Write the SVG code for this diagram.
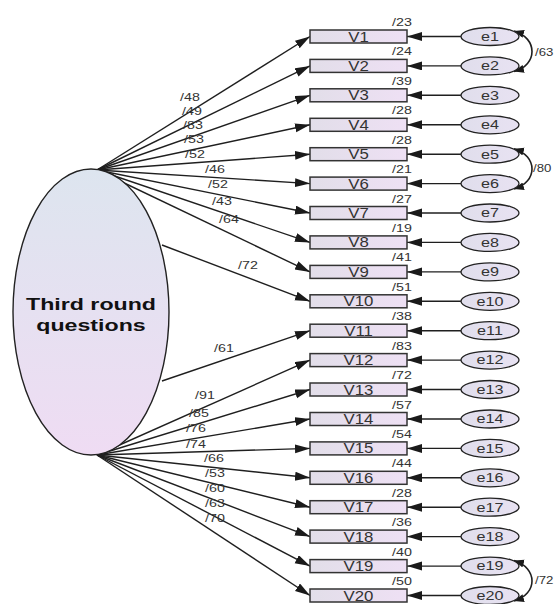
<svg xmlns="http://www.w3.org/2000/svg" width="555" height="604" viewBox="0 0 555 604">
<defs>
<linearGradient id="gBox" x1="0" y1="0" x2="1" y2="0"><stop offset="0" stop-color="#e2dee9"/><stop offset="1" stop-color="#eee0f4"/></linearGradient>
<linearGradient id="gLat" x1="0" y1="0" x2="0" y2="1"><stop offset="0" stop-color="#dde5ef"/><stop offset="1" stop-color="#efdcf3"/></linearGradient>
<linearGradient id="gErr" x1="0" y1="0" x2="1" y2="0"><stop offset="0" stop-color="#e0deec"/><stop offset="1" stop-color="#e8e2f2"/></linearGradient>
<marker id="ah" markerUnits="userSpaceOnUse" markerWidth="16" markerHeight="10" refX="15" refY="4.5" orient="auto"><path d="M0,0 L15,4.5 L0,9 z" fill="#1a1a1a"/></marker>
<marker id="ac" markerUnits="userSpaceOnUse" markerWidth="12" markerHeight="10" refX="10" refY="4" orient="auto-start-reverse"><path d="M0,0 L10,4 L0,8 z" fill="#1a1a1a"/></marker>
<style>
.ln{stroke:#1f1f1f;stroke-width:1.4;fill:none;marker-end:url(#ah)}
.cv{stroke:#1f1f1f;stroke-width:1.6;fill:none;marker-start:url(#ac);marker-end:url(#ac)}
.bx{fill:url(#gBox);stroke:#333;stroke-width:1.5}
.er{fill:url(#gErr);stroke:#222;stroke-width:1.3}
.lat{fill:url(#gLat);stroke:#222;stroke-width:1.4}
text{font-family:"Liberation Sans",Arial,sans-serif;fill:#2a2a2a}
.vt{font-size:14px;text-anchor:middle;fill:#333}
.et{font-size:12px;text-anchor:middle;fill:#333}
.nm{font-size:11px;fill:#333}
.tt{font-size:16px;font-weight:bold;text-anchor:middle;fill:#111}
</style>
</defs>
<rect width="555" height="604" fill="#ffffff"/>

<g id="connectors">
<line class="ln" x1="97" y1="170" x2="310" y2="36.5"/>
<line class="ln" x1="97" y1="170" x2="310" y2="65.9"/>
<line class="ln" x1="97" y1="170" x2="310" y2="95.3"/>
<line class="ln" x1="97" y1="170" x2="310" y2="124.8"/>
<line class="ln" x1="97" y1="170" x2="310" y2="154.2"/>
<line class="ln" x1="97" y1="170" x2="310" y2="183.6"/>
<line class="ln" x1="97" y1="170" x2="310" y2="213"/>
<line class="ln" x1="97" y1="170" x2="310" y2="242.4"/>
<line class="ln" x1="97" y1="170" x2="310" y2="271.9"/>
<line class="ln" x1="162" y1="245" x2="310" y2="301.3"/>
<line class="ln" x1="162" y1="381" x2="310" y2="330.7"/>
<line class="ln" x1="97" y1="455" x2="310" y2="360.1"/>
<line class="ln" x1="97" y1="455" x2="310" y2="389.5"/>
<line class="ln" x1="97" y1="455" x2="310" y2="419"/>
<line class="ln" x1="97" y1="455" x2="310" y2="448.4"/>
<line class="ln" x1="97" y1="455" x2="310" y2="477.8"/>
<line class="ln" x1="97" y1="455" x2="310" y2="507.2"/>
<line class="ln" x1="97" y1="455" x2="310" y2="536.6"/>
<line class="ln" x1="97" y1="455" x2="310" y2="566.1"/>
<line class="ln" x1="97" y1="455" x2="310" y2="595.5"/>

<line class="ln" x1="461" y1="36.5" x2="407" y2="36.5"/>
<line class="ln" x1="461" y1="65.9" x2="407" y2="65.9"/>
<line class="ln" x1="461" y1="95.3" x2="407" y2="95.3"/>
<line class="ln" x1="461" y1="124.8" x2="407" y2="124.8"/>
<line class="ln" x1="461" y1="154.2" x2="407" y2="154.2"/>
<line class="ln" x1="461" y1="183.6" x2="407" y2="183.6"/>
<line class="ln" x1="461" y1="213" x2="407" y2="213"/>
<line class="ln" x1="461" y1="242.4" x2="407" y2="242.4"/>
<line class="ln" x1="461" y1="271.9" x2="407" y2="271.9"/>
<line class="ln" x1="461" y1="301.3" x2="407" y2="301.3"/>
<line class="ln" x1="461" y1="330.7" x2="407" y2="330.7"/>
<line class="ln" x1="461" y1="360.1" x2="407" y2="360.1"/>
<line class="ln" x1="461" y1="389.5" x2="407" y2="389.5"/>
<line class="ln" x1="461" y1="419" x2="407" y2="419"/>
<line class="ln" x1="461" y1="448.4" x2="407" y2="448.4"/>
<line class="ln" x1="461" y1="477.8" x2="407" y2="477.8"/>
<line class="ln" x1="461" y1="507.2" x2="407" y2="507.2"/>
<line class="ln" x1="461" y1="536.6" x2="407" y2="536.6"/>
<line class="ln" x1="461" y1="566.1" x2="407" y2="566.1"/>
<line class="ln" x1="461" y1="595.5" x2="407" y2="595.5"/>

<path class="cv" d="M514,31 C538,38 538,65 514,71.5"/>
<path class="cv" d="M514,148.7 C538,156 538,182 514,189.1"/>
<path class="cv" d="M514,560.6 C538,568 538,594 514,601"/>

<text class="nm" transform="matrix(1.3 0 0 1 180 101)">/48</text>
<text class="nm" transform="matrix(1.3 0 0 1 182 115)">/49</text>
<text class="nm" transform="matrix(1.3 0 0 1 183 129)">/83</text>
<text class="nm" transform="matrix(1.3 0 0 1 184 143)">/53</text>
<text class="nm" transform="matrix(1.3 0 0 1 185 158)">/52</text>
<text class="nm" transform="matrix(1.3 0 0 1 205 173)">/46</text>
<text class="nm" transform="matrix(1.3 0 0 1 208 188)">/52</text>
<text class="nm" transform="matrix(1.3 0 0 1 212 205)">/43</text>
<text class="nm" transform="matrix(1.3 0 0 1 219 223)">/64</text>
<text class="nm" transform="matrix(1.3 0 0 1 238 269)">/72</text>
<text class="nm" transform="matrix(1.3 0 0 1 214 352)">/61</text>
<text class="nm" transform="matrix(1.3 0 0 1 195 399)">/91</text>
<text class="nm" transform="matrix(1.3 0 0 1 189 417)">/85</text>
<text class="nm" transform="matrix(1.3 0 0 1 186 432)">/76</text>
<text class="nm" transform="matrix(1.3 0 0 1 186 448)">/74</text>
<text class="nm" transform="matrix(1.3 0 0 1 204 462)">/66</text>
<text class="nm" transform="matrix(1.3 0 0 1 205 477)">/53</text>
<text class="nm" transform="matrix(1.3 0 0 1 205 492)">/60</text>
<text class="nm" transform="matrix(1.3 0 0 1 205 507)">/63</text>
<text class="nm" transform="matrix(1.3 0 0 1 205 522)">/70</text>

<text class="nm" transform="matrix(1.2 0 0 1 535 56)">/63</text>
<text class="nm" transform="matrix(1.2 0 0 1 533 172)">/80</text>
<text class="nm" transform="matrix(1.2 0 0 1 535 584)">/72</text>
</g>

<g id="F"><ellipse class="lat" cx="91" cy="312" rx="78" ry="143"/>
<text class="tt" transform="matrix(1.45 0 0 1 91 310)">Third round</text>
<text class="tt" transform="matrix(1.45 0 0 1 91 331)">questions</text></g>

<g id="V1"><rect class="bx" x="310" y="30" width="97" height="13"/><text class="vt" transform="matrix(1.2 0 0 1 358.5 41.5)">V1</text><text class="nm" transform="matrix(1.3 0 0 1 392 26)">/23</text></g>
<g id="V2"><rect class="bx" x="310" y="59.4" width="97" height="13"/><text class="vt" transform="matrix(1.2 0 0 1 358.5 70.9)">V2</text><text class="nm" transform="matrix(1.3 0 0 1 392 55.4)">/24</text></g>
<g id="V3"><rect class="bx" x="310" y="88.8" width="97" height="13"/><text class="vt" transform="matrix(1.2 0 0 1 358.5 100.3)">V3</text><text class="nm" transform="matrix(1.3 0 0 1 392 84.8)">/39</text></g>
<g id="V4"><rect class="bx" x="310" y="118.3" width="97" height="13"/><text class="vt" transform="matrix(1.2 0 0 1 358.5 129.8)">V4</text><text class="nm" transform="matrix(1.3 0 0 1 392 114.3)">/28</text></g>
<g id="V5"><rect class="bx" x="310" y="147.7" width="97" height="13"/><text class="vt" transform="matrix(1.2 0 0 1 358.5 159.2)">V5</text><text class="nm" transform="matrix(1.3 0 0 1 392 143.7)">/28</text></g>
<g id="V6"><rect class="bx" x="310" y="177.1" width="97" height="13"/><text class="vt" transform="matrix(1.2 0 0 1 358.5 188.6)">V6</text><text class="nm" transform="matrix(1.3 0 0 1 392 173.1)">/21</text></g>
<g id="V7"><rect class="bx" x="310" y="206.5" width="97" height="13"/><text class="vt" transform="matrix(1.2 0 0 1 358.5 218)">V7</text><text class="nm" transform="matrix(1.3 0 0 1 392 202.5)">/27</text></g>
<g id="V8"><rect class="bx" x="310" y="235.9" width="97" height="13"/><text class="vt" transform="matrix(1.2 0 0 1 358.5 247.4)">V8</text><text class="nm" transform="matrix(1.3 0 0 1 392 231.9)">/19</text></g>
<g id="V9"><rect class="bx" x="310" y="265.4" width="97" height="13"/><text class="vt" transform="matrix(1.2 0 0 1 358.5 276.9)">V9</text><text class="nm" transform="matrix(1.3 0 0 1 392 261.4)">/41</text></g>
<g id="V10"><rect class="bx" x="310" y="294.8" width="97" height="13"/><text class="vt" transform="matrix(1.2 0 0 1 358.5 306.3)">V10</text><text class="nm" transform="matrix(1.3 0 0 1 392 290.8)">/51</text></g>
<g id="V11"><rect class="bx" x="310" y="324.2" width="97" height="13"/><text class="vt" transform="matrix(1.2 0 0 1 358.5 335.7)">V11</text><text class="nm" transform="matrix(1.3 0 0 1 392 320.2)">/38</text></g>
<g id="V12"><rect class="bx" x="310" y="353.6" width="97" height="13"/><text class="vt" transform="matrix(1.2 0 0 1 358.5 365.1)">V12</text><text class="nm" transform="matrix(1.3 0 0 1 392 349.6)">/83</text></g>
<g id="V13"><rect class="bx" x="310" y="383" width="97" height="13"/><text class="vt" transform="matrix(1.2 0 0 1 358.5 394.5)">V13</text><text class="nm" transform="matrix(1.3 0 0 1 392 379)">/72</text></g>
<g id="V14"><rect class="bx" x="310" y="412.5" width="97" height="13"/><text class="vt" transform="matrix(1.2 0 0 1 358.5 424)">V14</text><text class="nm" transform="matrix(1.3 0 0 1 392 408.5)">/57</text></g>
<g id="V15"><rect class="bx" x="310" y="441.9" width="97" height="13"/><text class="vt" transform="matrix(1.2 0 0 1 358.5 453.4)">V15</text><text class="nm" transform="matrix(1.3 0 0 1 392 437.9)">/54</text></g>
<g id="V16"><rect class="bx" x="310" y="471.3" width="97" height="13"/><text class="vt" transform="matrix(1.2 0 0 1 358.5 482.8)">V16</text><text class="nm" transform="matrix(1.3 0 0 1 392 467.3)">/44</text></g>
<g id="V17"><rect class="bx" x="310" y="500.7" width="97" height="13"/><text class="vt" transform="matrix(1.2 0 0 1 358.5 512.2)">V17</text><text class="nm" transform="matrix(1.3 0 0 1 392 496.7)">/28</text></g>
<g id="V18"><rect class="bx" x="310" y="530.1" width="97" height="13"/><text class="vt" transform="matrix(1.2 0 0 1 358.5 541.6)">V18</text><text class="nm" transform="matrix(1.3 0 0 1 392 526.1)">/36</text></g>
<g id="V19"><rect class="bx" x="310" y="559.6" width="97" height="13"/><text class="vt" transform="matrix(1.2 0 0 1 358.5 571.1)">V19</text><text class="nm" transform="matrix(1.3 0 0 1 392 555.6)">/40</text></g>
<g id="V20"><rect class="bx" x="310" y="589" width="97" height="13"/><text class="vt" transform="matrix(1.2 0 0 1 358.5 600.5)">V20</text><text class="nm" transform="matrix(1.3 0 0 1 392 585)">/50</text></g>

<g id="e1"><ellipse class="er" cx="490" cy="36.5" rx="29" ry="9"/><text class="et" transform="matrix(1.35 0 0 1 490 40.8)">e1</text></g>
<g id="e2"><ellipse class="er" cx="490" cy="65.9" rx="29" ry="9"/><text class="et" transform="matrix(1.35 0 0 1 490 70.2)">e2</text></g>
<g id="e3"><ellipse class="er" cx="490" cy="95.3" rx="29" ry="9"/><text class="et" transform="matrix(1.35 0 0 1 490 99.6)">e3</text></g>
<g id="e4"><ellipse class="er" cx="490" cy="124.8" rx="29" ry="9"/><text class="et" transform="matrix(1.35 0 0 1 490 129.1)">e4</text></g>
<g id="e5"><ellipse class="er" cx="490" cy="154.2" rx="29" ry="9"/><text class="et" transform="matrix(1.35 0 0 1 490 158.5)">e5</text></g>
<g id="e6"><ellipse class="er" cx="490" cy="183.6" rx="29" ry="9"/><text class="et" transform="matrix(1.35 0 0 1 490 187.9)">e6</text></g>
<g id="e7"><ellipse class="er" cx="490" cy="213" rx="29" ry="9"/><text class="et" transform="matrix(1.35 0 0 1 490 217.3)">e7</text></g>
<g id="e8"><ellipse class="er" cx="490" cy="242.4" rx="29" ry="9"/><text class="et" transform="matrix(1.35 0 0 1 490 246.7)">e8</text></g>
<g id="e9"><ellipse class="er" cx="490" cy="271.9" rx="29" ry="9"/><text class="et" transform="matrix(1.35 0 0 1 490 276.2)">e9</text></g>
<g id="e10"><ellipse class="er" cx="490" cy="301.3" rx="29" ry="9"/><text class="et" transform="matrix(1.35 0 0 1 490 305.6)">e10</text></g>
<g id="e11"><ellipse class="er" cx="490" cy="330.7" rx="29" ry="9"/><text class="et" transform="matrix(1.35 0 0 1 490 335)">e11</text></g>
<g id="e12"><ellipse class="er" cx="490" cy="360.1" rx="29" ry="9"/><text class="et" transform="matrix(1.35 0 0 1 490 364.4)">e12</text></g>
<g id="e13"><ellipse class="er" cx="490" cy="389.5" rx="29" ry="9"/><text class="et" transform="matrix(1.35 0 0 1 490 393.8)">e13</text></g>
<g id="e14"><ellipse class="er" cx="490" cy="419" rx="29" ry="9"/><text class="et" transform="matrix(1.35 0 0 1 490 423.3)">e14</text></g>
<g id="e15"><ellipse class="er" cx="490" cy="448.4" rx="29" ry="9"/><text class="et" transform="matrix(1.35 0 0 1 490 452.7)">e15</text></g>
<g id="e16"><ellipse class="er" cx="490" cy="477.8" rx="29" ry="9"/><text class="et" transform="matrix(1.35 0 0 1 490 482.1)">e16</text></g>
<g id="e17"><ellipse class="er" cx="490" cy="507.2" rx="29" ry="9"/><text class="et" transform="matrix(1.35 0 0 1 490 511.5)">e17</text></g>
<g id="e18"><ellipse class="er" cx="490" cy="536.6" rx="29" ry="9"/><text class="et" transform="matrix(1.35 0 0 1 490 540.9)">e18</text></g>
<g id="e19"><ellipse class="er" cx="490" cy="566.1" rx="29" ry="9"/><text class="et" transform="matrix(1.35 0 0 1 490 570.4)">e19</text></g>
<g id="e20"><ellipse class="er" cx="490" cy="595.5" rx="29" ry="9"/><text class="et" transform="matrix(1.35 0 0 1 490 599.8)">e20</text></g>
</svg>
